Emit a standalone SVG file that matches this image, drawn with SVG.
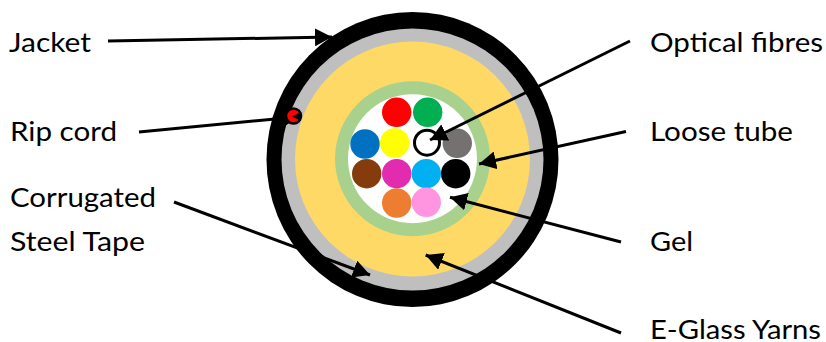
<svg xmlns="http://www.w3.org/2000/svg" width="826" height="342" viewBox="0 0 826 342">
<style>
text{font-family:"Lato","Open Sans","Liberation Sans",sans-serif;font-size:27.5px;fill:#000}
.c{stroke:#000;stroke-width:3;fill:none;marker-end:url(#a)}
</style>
<defs><marker id="a" markerUnits="userSpaceOnUse" markerWidth="18" markerHeight="18" refX="17" refY="9" orient="auto"><path d="M0 0L17 9L0 18Z" fill="#000"/></marker></defs>
<rect width="826" height="342" fill="#fff"/>
<g id="cable">
<ellipse cx="412.5" cy="159.5" rx="146" ry="147.5" fill="#000"/>
<circle cx="412.5" cy="159.5" r="131" fill="#bfbfbf"/>
<circle cx="412.5" cy="159" r="117.5" fill="#ffd966"/>
<circle cx="412.5" cy="158.7" r="77.5" fill="#a9d18e"/>
<circle cx="412.5" cy="158.7" r="64.5" fill="#fff"/>
</g>
<g id="fibres">
<circle cx="396.7" cy="112.3" r="14.7" fill="#f00"/>
<circle cx="427.7" cy="112.3" r="14.7" fill="#00b050"/>
<circle cx="365" cy="144" r="14.7" fill="#0070c0"/>
<circle cx="394.7" cy="143" r="14.7" fill="#ff0"/>
<circle cx="427" cy="142.7" r="12.5" fill="#fff" stroke="#000" stroke-width="3"/>
<circle cx="457.3" cy="143.3" r="14.7" fill="#767171"/>
<circle cx="366.7" cy="173.7" r="14.7" fill="#843c0c"/>
<circle cx="396.7" cy="173.7" r="14.7" fill="#e32bb0"/>
<circle cx="426.3" cy="173.7" r="14.7" fill="#00b0f0"/>
<circle cx="455.7" cy="173.7" r="14.7" fill="#000"/>
<circle cx="396.7" cy="203" r="14.7" fill="#ed7d31"/>
<circle cx="426.3" cy="202.3" r="14.7" fill="#ff94e0"/>
</g>
<g id="connectors">
<path class="c" d="M108 41L332 37"/>
<path class="c" d="M139 132L299 116.7"/>
<path class="c" d="M174 202L370 275"/>
<path class="c" d="M630 41L430 140"/>
<path class="c" d="M626 131.500L479 164"/>
<path class="c" d="M621 242L450 197.3"/>
<path class="c" d="M621 333L425.700 255"/>
</g>
<g id="ripcord">
<circle cx="293.500" cy="116" r="7.500" fill="#f00" stroke="#000" stroke-width="2.500"/>
<path d="M292 116.500L301 112L301 121Z" fill="#000"/>
</g>
<g id="labels">
<text x="9" y="52" textLength="82" lengthAdjust="spacingAndGlyphs">Jacket</text>
<text x="10" y="141" textLength="107" lengthAdjust="spacingAndGlyphs">Rip cord</text>
<text x="10" y="207" textLength="146" lengthAdjust="spacingAndGlyphs">Corrugated</text>
<text x="10" y="251" textLength="135" lengthAdjust="spacingAndGlyphs">Steel Tape</text>
<text x="650" y="52" textLength="173" lengthAdjust="spacingAndGlyphs">Optical fibres</text>
<text x="650" y="141" textLength="143" lengthAdjust="spacingAndGlyphs">Loose tube</text>
<text x="650" y="251" textLength="43" lengthAdjust="spacingAndGlyphs">Gel</text>
<text x="650" y="339" textLength="171" lengthAdjust="spacingAndGlyphs">E-Glass Yarns</text>
</g>
</svg>
